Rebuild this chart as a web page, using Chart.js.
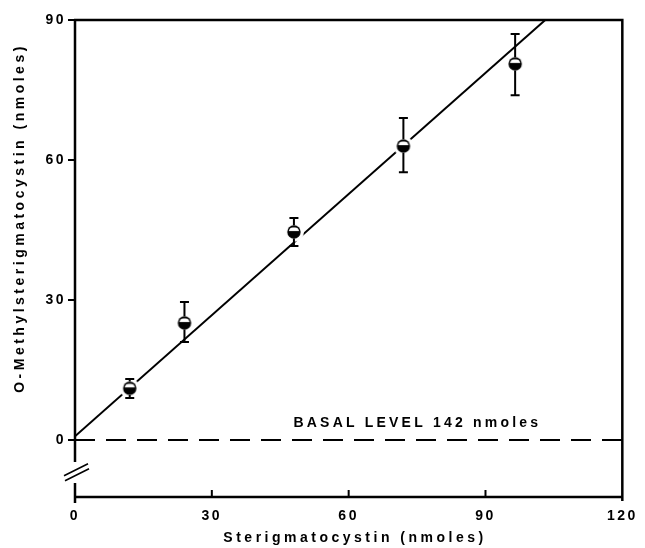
<!DOCTYPE html>
<html>
<head>
<meta charset="utf-8">
<script src="https://cdn.jsdelivr.net/npm/chart.js@4/dist/chart.umd.min.js"></script>
<style>
html, body { margin: 0; padding: 0; background: #fff; }
#wrap { width: 645px; height: 548px; position: relative; }
</style>
</head>
<body>
<div id="wrap"><canvas id="canvas" width="645" height="548"></canvas></div>
<script>
// measured points (nmoles)
let sterig = [12, 24, 48, 72, 96.5];
let omethyl = [11.1, 25.1, 44.6, 63.0, 80.6];
let errLow = [9.0, 21.0, 41.6, 57.4, 73.9];
let errHigh = [13.1, 29.6, 47.6, 69.0, 87.0];

// fitted line and the basal level line
let fitX = [0, 103.1];
let fitY = [0.8, 90];
let basalX = [0, 120];
let basalY = [0, 0];

let xTicks = [0, 30, 60, 90, 120];
let yTicks = [0, 30, 60, 90];
let basalLabel = 'BASAL LEVEL 142 nmoles';
let xTitle = 'Sterigmatocystin (nmoles)';
let yTitle = 'O-Methylsterigmatocystin (nmoles)';

const FONT = "'Liberation Sans', Arial, sans-serif";

// black circle with a white band in the upper half, white halo round it
function makeMarker() {
    let c = document.createElement('canvas');
    c.width = 22; c.height = 22;
    let g = c.getContext('2d');
    g.fillStyle = '#fff';
    g.beginPath(); g.arc(11, 11, 10, 0, Math.PI * 2); g.fill();
    g.fillStyle = '#000';
    g.beginPath(); g.arc(11, 11, 6.7, 0, Math.PI * 2); g.fill();
    g.save();
    g.beginPath(); g.arc(11, 11, 5.2, 0, Math.PI * 2); g.clip();
    g.fillStyle = '#fff';
    g.fillRect(0, 6.5, 22, 3.6);
    g.restore();
    return c;
}

function pts(xs, ys) {
    return xs.map((x, i) => ({x: x, y: ys[i]}));
}

// the scan uses widely tracked lettering
const spacing = {
    id: 'spacing',
    beforeDraw(chart) {
        chart.ctx.letterSpacing = '2.5px';
    }
};

const frame = {
    id: 'frame',
    afterDatasetsDraw(chart) {
        let ctx = chart.ctx;
        let xs = chart.scales.x, ys = chart.scales.y;
        let l = xs.getPixelForValue(0), r = xs.getPixelForValue(120);
        let t = ys.getPixelForValue(90), b = chart.chartArea.bottom;
        ctx.save();
        ctx.strokeStyle = '#000';
        ctx.lineCap = 'butt';

        // error bars, from the marker edge outward
        ctx.lineWidth = 2;
        sterig.forEach((x, i) => {
            let px = xs.getPixelForValue(x);
            let py = ys.getPixelForValue(omethyl[i]);
            let hi = ys.getPixelForValue(errHigh[i]);
            let lo = ys.getPixelForValue(errLow[i]);
            ctx.beginPath();
            ctx.moveTo(px, py - 6.7); ctx.lineTo(px, hi);
            ctx.moveTo(px, py + 6.7); ctx.lineTo(px, lo);
            ctx.moveTo(px - 4.5, hi); ctx.lineTo(px + 4.5, hi);
            ctx.moveTo(px - 4.5, lo); ctx.lineTo(px + 4.5, lo);
            ctx.stroke();
        });

        // box
        ctx.lineWidth = 2.5;
        ctx.beginPath();
        ctx.moveTo(l - 1, t); ctx.lineTo(r, t); ctx.lineTo(r, b + 4);
        ctx.moveTo(l, b); ctx.lineTo(r, b);
        // left axis with a break
        ctx.moveTo(l, t - 1); ctx.lineTo(l, ys.getPixelForValue(-4.7));
        ctx.moveTo(l, ys.getPixelForValue(-9.2)); ctx.lineTo(l, b + 6);
        ctx.stroke();

        // break marks
        ctx.lineWidth = 1.6;
        let by = ys.getPixelForValue(-7);
        ctx.beginPath();
        ctx.moveTo(l - 11, by + 3); ctx.lineTo(l + 13, by - 9);
        ctx.moveTo(l - 10, by + 8); ctx.lineTo(l + 14, by - 4);
        ctx.stroke();

        // y ticks outward, x ticks inward
        ctx.lineWidth = 2;
        ctx.beginPath();
        yTicks.forEach(v => {
            let py = ys.getPixelForValue(v);
            ctx.moveTo(l - 7, py); ctx.lineTo(l, py);
        });
        xTicks.slice(1, -1).forEach(v => {
            let px = xs.getPixelForValue(v);
            ctx.moveTo(px, b); ctx.lineTo(px, b - 7);
        });
        ctx.stroke();

        // basal level label
        ctx.fillStyle = '#000';
        ctx.font = 'bold 14px ' + FONT;
        ctx.letterSpacing = '3.2px';
        ctx.textBaseline = 'middle';
        ctx.textAlign = 'left';
        ctx.fillText(basalLabel, xs.getPixelForValue(47.9), ys.getPixelForValue(3.6));

        // axis titles
        ctx.letterSpacing = '3.5px';
        ctx.textAlign = 'center';
        ctx.fillText(xTitle, 355, 538);
        ctx.translate(20, 218);
        ctx.rotate(-Math.PI / 2);
        ctx.fillText(yTitle, 0, 0);
        ctx.restore();
    }
};

let ctx = document.getElementById('canvas').getContext('2d');
let myChart = new Chart(ctx, {
    type: 'scatter',
    data: {
        datasets: [{
            label: 'fit',
            data: pts(fitX, fitY),
            showLine: true,
            borderColor: '#000',
            borderWidth: 2,
            pointRadius: 0,
            order: 3
        }, {
            label: 'basal',
            data: pts(basalX, basalY),
            showLine: true,
            borderColor: '#000',
            borderWidth: 2,
            borderDash: [20, 11],
            pointRadius: 0,
            order: 2
        }, {
            label: 'O-methylsterigmatocystin',
            data: pts(sterig, omethyl),
            pointStyle: makeMarker(),
            pointRadius: 10,
            order: 1
        }]
    },
    options: {
        responsive: false,
        animation: false,
        devicePixelRatio: 1,
        layout: { padding: { top: 20, right: 16, left: 0, bottom: 0 } },
        plugins: { legend: { display: false }, tooltip: { enabled: false } },
        scales: {
            x: {
                type: 'linear', min: 0, max: 120,
                grid: { display: false, drawTicks: false, tickLength: 0 },
                border: { display: false },
                afterBuildTicks: s => { s.ticks = xTicks.map(v => ({value: v})); },
                afterFit: s => { s.height = 51; },
                ticks: { color: '#000', padding: 11, maxRotation: 0,
                         font: { family: FONT, size: 14, weight: 'bold' } }
            },
            y: {
                type: 'linear', min: -12.2, max: 90,
                grid: { display: false, drawTicks: false, tickLength: 0 },
                border: { display: false },
                afterBuildTicks: s => { s.ticks = yTicks.map(v => ({value: v})); },
                afterFit: s => { s.width = 75; },
                ticks: { color: '#000', padding: 9,
                         font: { family: FONT, size: 14, weight: 'bold' } }
            }
        }
    },
    plugins: [spacing, frame]
});
</script>
</body>
</html>
